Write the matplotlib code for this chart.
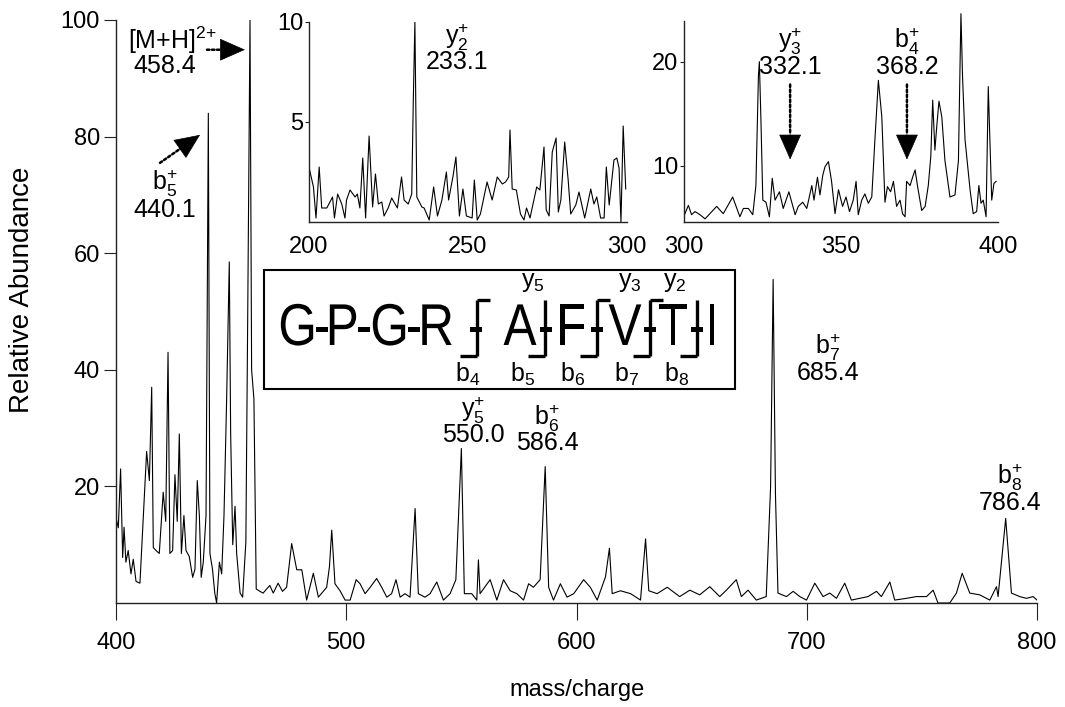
import matplotlib
matplotlib.use('Agg')
import matplotlib.pyplot as plt
import matplotlib.transforms as mtransforms
from matplotlib.patches import Rectangle, PathPatch
from matplotlib.textpath import TextPath
from matplotlib.font_manager import FontProperties

plt.rcParams['font.family'] = 'Liberation Sans'
plt.rcParams['mathtext.fontset'] = 'custom'
plt.rcParams['mathtext.rm'] = 'Liberation Sans'
plt.rcParams['mathtext.it'] = 'Liberation Sans:italic'
plt.rcParams['mathtext.bf'] = 'Liberation Sans:bold'

# ---- main spectrum (m/z 400-800) ----
main_mz = [400.0, 401.0, 402.0, 402.9, 403.5, 404.3, 405.3, 406.5, 407.5, 408.7,
           410.4, 411.9, 413.3, 414.5, 415.5, 416.2, 417.4, 418.8, 420.5, 421.6,
           422.6, 423.4, 424.6, 425.6, 426.6, 427.5, 428.4, 429.5, 430.4, 431.8,
           433.3, 434.3, 435.3, 436.2, 437.0, 437.9, 439.1, 440.1, 440.8, 441.9,
           442.9, 443.7, 444.9, 445.9, 446.9, 448.0, 449.2, 449.8, 450.7, 451.7,
           452.4, 453.9, 455.0, 456.4, 457.2, 458.2, 458.9, 459.9, 460.9, 462.5,
           463.9, 465.4, 466.8, 468.3, 470.4, 472.3, 474.1, 476.3, 478.5, 480.7,
           482.8, 485.7, 487.9, 491.5, 492.7, 493.7, 495.1, 497.3, 499.5, 501.7,
           504.3, 506.0, 508.2, 510.4, 513.2, 515.4, 517.6, 519.7, 521.6, 523.4,
           525.5, 527.7, 529.9, 531.3, 534.2, 536.4, 539.3, 542.2, 545.1, 547.6,
           550.0, 551.3, 554.5, 556.7, 557.4, 558.1, 562.5, 565.4, 568.3, 571.2,
           574.1, 577.0, 579.2, 581.3, 584.2, 586.4, 587.9, 590.0, 593.0, 595.9,
           598.8, 603.1, 606.0, 609.0, 612.6, 614.3, 615.5, 619.1, 623.5, 627.8,
           630.0, 631.4, 635.0, 639.4, 644.8, 649.2, 653.5, 657.9, 662.2, 665.1,
           669.4, 671.6, 674.5, 678.1, 682.4, 684.3, 685.4, 686.4, 687.5, 691.2,
           694.1, 697.0, 699.9, 703.5, 707.1, 710.0, 712.9, 716.5, 719.4, 723.0,
           726.6, 730.3, 732.4, 736.1, 738.2, 743.3, 747.6, 752.0, 754.9, 757.0,
           762.1, 765.0, 767.5, 770.8, 775.1, 779.5, 782.4, 783.1, 786.4, 788.9,
           792.5, 795.4, 798.3, 800.0]
main_int = [14.6, 12.9, 23.0, 7.8, 13.0, 7.0, 9.0, 5.0, 7.5, 3.7,
            3.4, 15.0, 26.0, 21.0, 37.0, 9.5, 9.0, 8.5, 19.0, 14.0,
            43.0, 8.5, 9.0, 22.0, 14.0, 29.0, 8.5, 15.0, 9.0, 8.0,
            4.4, 5.8, 21.0, 15.0, 4.4, 7.0, 15.0, 84.0, 8.5, 5.8,
            1.7, 0.0, 7.0, 5.0, 15.0, 34.0, 58.5, 29.0, 10.0, 16.6,
            8.5, 1.7, 1.0, 10.5, 49.0, 100.0, 40.0, 35.0, 2.4, 2.0,
            1.7, 2.4, 3.0, 1.7, 3.4, 2.0, 2.7, 10.2, 5.7, 5.7,
            0.5, 5.1, 1.0, 2.7, 6.2, 12.5, 3.3, 2.1, 0.5, 0.5,
            4.0, 3.3, 1.6, 2.7, 4.2, 2.7, 1.0, 1.6, 4.0, 1.0,
            1.6, 1.0, 16.2, 1.6, 1.0, 1.6, 3.6, 0.5, 1.6, 4.0,
            26.5, 1.6, 1.6, 0.5, 7.4, 1.6, 4.0, 0.5, 4.0, 2.1,
            1.6, 0.5, 3.3, 2.7, 4.0, 23.4, 2.7, 0.5, 3.3, 1.0,
            1.6, 4.0, 2.7, 0.5, 4.5, 9.4, 1.6, 2.1, 1.6, 0.5,
            11.0, 2.1, 1.6, 2.7, 1.1, 2.2, 1.4, 2.8, 1.1, 2.2,
            4.0, 1.1, 2.2, 0.5, 1.1, 20.0, 55.5, 18.8, 1.7, 1.1,
            2.0, 1.1, 0.5, 3.4, 1.1, 1.7, 0.8, 3.4, 0.5, 0.8,
            1.1, 2.0, 1.1, 3.6, 0.5, 0.8, 1.1, 1.1, 2.2, 0.0,
            0.0, 1.7, 5.1, 1.7, 1.4, 0.5, 2.8, 1.1, 14.5, 1.7,
            1.1, 0.8, 1.1, 0.5]

# ---- inset 1 (m/z 200-300) ----
ins1_mz = [200.2, 201.4, 202.2, 203.2, 204.0, 205.6, 207.4, 208.0, 209.0, 210.3,
           211.3, 211.8, 212.9, 214.5, 215.2, 216.0, 216.9, 217.8, 218.9, 220.0,
           220.9, 221.8, 222.9, 223.6, 224.9, 226.0, 227.8, 229.1, 229.9, 231.2,
           232.3, 232.8, 233.3, 233.9, 235.5, 236.2, 237.8, 239.2, 240.4, 241.8,
           243.2, 243.9, 245.3, 246.2, 247.3, 248.4, 249.5, 251.3, 252.0, 252.9,
           253.9, 256.0, 257.6, 259.2, 260.8, 261.8, 262.8, 263.2, 263.9, 265.2,
           266.5, 267.6, 268.4, 269.5, 271.6, 272.6, 273.9, 274.6, 275.5, 276.5,
           277.7, 278.4, 279.2, 280.4, 281.5, 282.3, 283.9, 284.9, 286.7, 288.6,
           289.6, 290.5, 291.7, 292.8, 293.5, 294.4, 295.9, 296.8, 297.5, 298.1,
           298.8, 299.6]
ins1_int = [2.6, 1.75, 0.2, 2.75, 0.7, 0.7, 1.25, 0.2, 1.4, 0.9,
            0.2, 1.1, 1.6, 1.25, 1.4, 0.7, 3.2, 0.2, 4.3, 0.75,
            2.4, 0.9, 1.0, 0.3, 0.7, 1.2, 0.7, 2.25, 1.1, 0.9,
            1.4, 6.1, 10.0, 1.25, 0.75, 0.7, 0.1, 1.75, 0.3, 1.1,
            2.5, 1.1, 2.3, 3.25, 0.3, 1.65, 0.3, 0.2, 2.1, 0.1,
            0.4, 2.0, 1.1, 2.25, 1.9, 2.0, 2.25, 4.6, 1.65, 1.6,
            0.4, 0.1, 0.7, 0.2, 1.75, 1.6, 3.75, 0.6, 0.3, 3.5,
            4.2, 0.5, 1.1, 4.0, 2.1, 0.4, 0.85, 1.5, 0.2, 1.65,
            0.9, 1.25, 0.2, 0.2, 2.75, 0.85, 3.1, 3.2, 2.7, 0.0,
            4.8, 1.65]

# ---- inset 2 (m/z 300-400) ----
ins2_mz = [300.3, 301.4, 302.4, 303.5, 305.1, 306.7, 310.4, 312.5, 315.5, 317.8,
           318.9, 320.5, 321.9, 322.9, 323.7, 324.0, 324.5, 325.1, 326.1, 327.2,
           328.1, 329.0, 330.4, 331.6, 333.4, 335.4, 336.4, 337.8, 339.1, 340.7,
           341.4, 342.5, 343.3, 344.2, 344.9, 346.0, 347.0, 348.1, 349.2, 350.5,
           351.6, 352.7, 353.9, 354.8, 355.5, 356.6, 357.6, 358.7, 359.8, 360.8,
           361.9, 363.0, 364.0, 364.8, 365.8, 366.7, 367.7, 368.8, 369.6, 370.4,
           370.9, 372.0, 372.8, 373.6, 374.4, 375.7, 376.8, 377.8, 378.6, 379.2,
           379.9, 380.5, 381.2, 382.1, 383.1, 384.7, 386.3, 387.4, 387.9, 388.2,
           388.7, 389.5, 391.1, 392.1, 393.2, 393.9, 394.6, 395.3, 396.2, 396.9,
           398.0, 398.7, 399.4]
ins2_int = [5.4, 6.2, 5.3, 5.6, 5.3, 4.9, 6.1, 5.4, 7.0, 5.1,
            5.9, 5.9, 5.3, 8.1, 18.6, 20.0, 14.4, 6.7, 6.5, 5.1,
            8.8, 6.7, 7.5, 5.9, 7.5, 5.3, 6.1, 6.5, 5.9, 8.1,
            6.7, 8.9, 7.2, 9.1, 9.9, 10.4, 8.5, 5.4, 7.7, 6.1,
            7.0, 5.6, 6.7, 8.5, 5.3, 6.7, 7.3, 6.4, 7.0, 12.5,
            18.2, 14.7, 6.5, 8.0, 7.5, 8.5, 6.1, 6.7, 5.4, 5.1,
            8.5, 8.1, 8.9, 9.6, 8.0, 5.7, 6.1, 8.1, 10.9, 16.3,
            11.5, 13.8, 16.2, 14.7, 10.5, 7.0, 7.2, 10.5, 19.5, 24.6,
            18.6, 12.5, 7.7, 5.4, 5.6, 8.1, 6.4, 6.7, 5.1, 17.6,
            6.7, 8.3, 8.5]

# ---- peak labels: (ion, m/z text, x, y of number) ----
main_labels = [('y$_5^{+}$', '550.0', 555.0, 28.8),
               ('b$_6^{+}$', '586.4', 587.2, 27.4),
               ('b$_7^{+}$', '685.4', 709.2, 39.5),
               ('b$_8^{+}$', '786.4', 788.3, 17.2)]
ins1_labels = [('y$_2^{+}$', '233.1', 246.5, 8.0)]
ins2_labels = [('y$_3^{+}$', '332.1', 333.8, 19.5),
               ('b$_4^{+}$', '368.2', 371.0, 19.5)]

# sequence and fragment positions (figure pixels)
seq_chars = ['G', '-', 'P', '-', 'G', '-', 'R', '-', 'A', '-', 'F', '-', 'V', '-', 'T', '-', 'I']
seq_x = [297, 322, 343, 364, 389, 414, 437, 476, 520, 546, 572, 597, 625, 650, 673, 697, 712]
cut_x = [477, 545, 597, 650, 697]
cut_top = [True, False, True, True, False]
y_frag = [('y$_5$', 533), ('y$_3$', 630), ('y$_2$', 675)]
b_frag = [('b$_4$', 468), ('b$_5$', 523), ('b$_6$', 573), ('b$_7$', 627), ('b$_8$', 677)]

W, H = 1065, 707
FS = 18
fig = plt.figure(figsize=(W / 100, H / 100), dpi=100)


def px_axes(l, t, r, b):
    return fig.add_axes([l / W, 1 - b / H, (r - l) / W, (b - t) / H])


def style(ax, fs):
    for s in ['top', 'right']:
        ax.spines[s].set_visible(False)
    for s in ['left', 'bottom']:
        ax.spines[s].set_color('#222222')
        ax.spines[s].set_linewidth(1.0)
    ax.tick_params(labelsize=fs, colors='#222222', labelcolor='black')


def ion_label(ax, ion, num, x, y, fs=FS):
    ax.text(x, y, num, ha='center', va='center', fontsize=fs)
    ax.annotate(ion, xy=(x, y), xytext=(0, 18), textcoords='offset points',
                ha='center', va='center', fontsize=fs)


def dotted_arrow(ax, tail, tip, head_frac=0.4):
    # dotted shaft plus a solid filled head
    hx = tip[0] - (tip[0] - tail[0]) * head_frac
    hy = tip[1] - (tip[1] - tail[1]) * head_frac
    ax.annotate('', xy=(hx, hy), xytext=tail,
                arrowprops=dict(arrowstyle='-', linestyle=(0, (1, 1)), lw=1.8, color='black',
                                shrinkA=0, shrinkB=0))
    ax.annotate('', xy=tip, xytext=(hx, hy),
                arrowprops=dict(arrowstyle='-|>,head_length=1.7,head_width=0.75', lw=0.5,
                                color='black', shrinkA=0, shrinkB=0))


# main axes
ax = px_axes(116, 20, 1037, 603)
ax.plot(main_mz, main_int, color='black', lw=0.8)
ax.set_xlim(400, 800)
ax.set_ylim(0, 100)
ax.set_xticks([400, 500, 600, 700, 800])
ax.set_yticks([20, 40, 60, 80, 100])
style(ax, 17)
ax.tick_params(axis='x', length=12, width=0.8, pad=9)
ax.tick_params(axis='y', length=8.5, width=0.8, pad=3)
for ion, num, x, y in main_labels:
    ion_label(ax, ion, num, x, y)

ax.text(405.2, 96.6, '[M+H]$^{2{+}}$', ha='left', va='center', fontsize=FS)
ax.text(421.3, 92.1, '458.4', ha='center', va='center', fontsize=FS)
dotted_arrow(ax, (439.5, 94.9), (456.0, 94.9))
ax.text(421.3, 71.9, 'b$_5^{+}$', ha='center', va='center', fontsize=FS)
ax.text(421.3, 67.4, '440.1', ha='center', va='center', fontsize=FS)
dotted_arrow(ax, (419.1, 75.5), (436.5, 80.3))

# inset 1
a1 = px_axes(309, 22, 627, 222)
a1.plot(ins1_mz, ins1_int, color='black', lw=0.8)
a1.set_xlim(200, 300)
a1.set_ylim(0, 10)
a1.set_xticks([200, 250, 300])
a1.set_yticks([5, 10])
style(a1, 17)
a1.tick_params(axis='x', length=0, pad=10)
a1.tick_params(axis='y', length=3, pad=1)
for ion, num, x, y in ins1_labels:
    ion_label(a1, ion, num, x, y)

# inset 2
a2 = px_axes(684, 21, 998, 222)
a2.plot(ins2_mz, ins2_int, color='black', lw=0.8, clip_on=False)
a2.set_xlim(300, 400)
a2.set_ylim(4.6, 23.9)
a2.set_xticks([300, 350, 400])
a2.set_yticks([10, 20])
style(a2, 17)
a2.tick_params(axis='x', length=0, pad=10)
a2.tick_params(axis='y', length=3, pad=1)
for ion, num, x, y in ins2_labels:
    ion_label(a2, ion, num, x, y)
    dotted_arrow(a2, (x, 17.8), (x, 10.6), head_frac=0.36)

# overlay in pixel coordinates for labels and the sequence box
ov = fig.add_axes([0, 0, 1, 1], zorder=5)
ov.set_xlim(0, W)
ov.set_ylim(H, 0)
ov.axis('off')
ov.add_patch(Rectangle((264, 270), 471, 119, facecolor='white', edgecolor='black', lw=1.5))

# condensed sequence letters drawn as outlines, each centred on its x
fp = FontProperties(family='Liberation Sans')
for ch, x in zip(seq_chars, seq_x):
    tp = TextPath((0, 0), ch, size=59, prop=fp)
    ext = tp.get_extents()
    cx = (ext.x0 + ext.x1) / 2
    tr = mtransforms.Affine2D().translate(-cx, 0).scale(0.84, -1).translate(x, 345) + ov.transData
    ov.add_patch(PathPatch(tp, transform=tr, facecolor='black', lw=0))

top, bot = 300, 356
for x, has_top in zip(cut_x, cut_top):
    ov.plot([x, x], [top, bot], color='black', lw=2.4, solid_capstyle='butt')
    ov.plot([x - 17, x], [bot, bot], color='black', lw=2.4, solid_capstyle='butt')
    if has_top:
        ov.plot([x, x + 13], [top, top], color='black', lw=2.4, solid_capstyle='butt')
for lab, x in y_frag:
    ov.text(x, 282, lab, ha='center', va='center', fontsize=FS)
for lab, x in b_frag:
    ov.text(x, 374, lab, ha='center', va='center', fontsize=FS)

ov.text(22, 290, 'Relative Abundance', rotation=90, ha='center', va='center', fontsize=20)
ov.text(577, 690, 'mass/charge', ha='center', va='center', fontsize=17)

fig.savefig('out.png', dpi=100)
